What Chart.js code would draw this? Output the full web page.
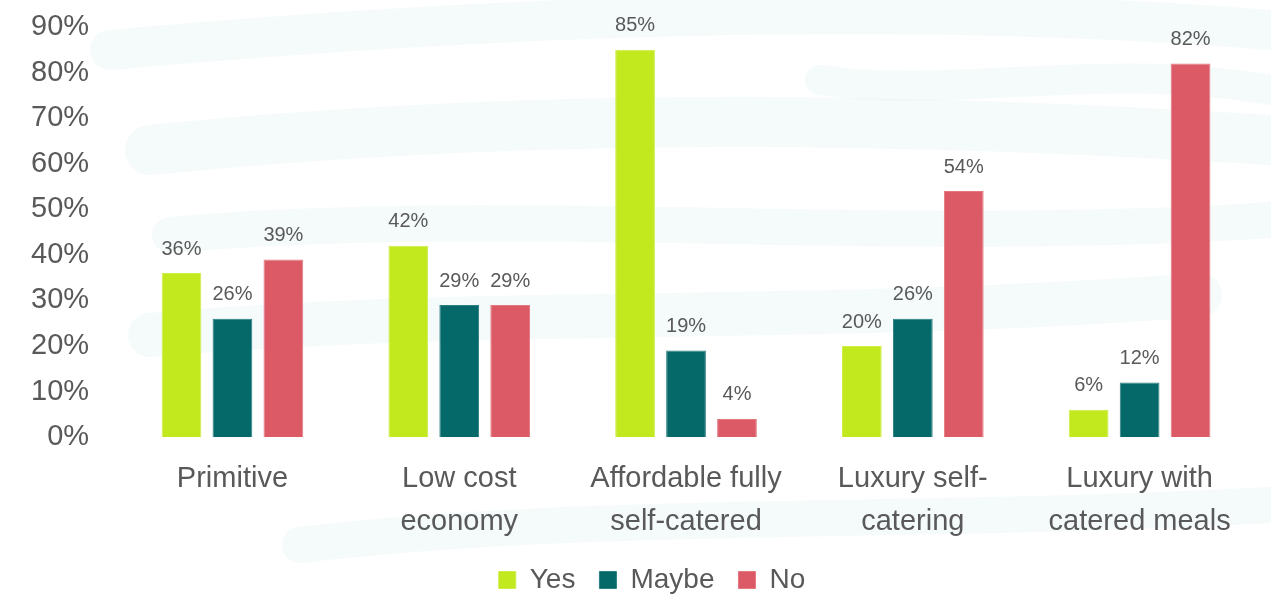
<!DOCTYPE html>
<html>
<head>
<meta charset="utf-8">
<script src="https://cdn.jsdelivr.net/npm/chart.js@4/dist/chart.umd.min.js"></script>
<style>
  html, body { margin: 0; padding: 0; background: #fff; }
  #wrap { width: 1271px; height: 595px; position: relative; }
</style>
</head>
<body>
<div id="wrap"><canvas id="myChart"></canvas></div>
<script>
let categories = [
  ["Primitive"],
  ["Low cost", "economy"],
  ["Affordable fully", "self-catered"],
  ["Luxury self-", "catering"],
  ["Luxury with", "catered meals"]
]
let yes = [36, 42, 85, 20, 6]
let maybe = [26, 29, 19, 26, 12]
let no = [39, 29, 4, 54, 82]
let yTicks = [0, 10, 20, 30, 40, 50, 60, 70, 80, 90]

let textGray = '#595959'
let fontFamily = "'Liberation Sans', Arial, sans-serif"

// faint brush strokes behind the chart
const brushBackground = {
  id: 'brushBackground',
  beforeDraw(chart) {
    const c = chart.ctx
    c.save()
    c.fillStyle = '#ffffff'
    c.fillRect(0, 0, chart.width, chart.height)
    c.strokeStyle = 'rgba(222, 237, 242, 0.3)'
    c.lineCap = 'round'
    const strokes = [
      [110, 50, 500, 15, 900, 0, 1271, 30, 40],
      [150, 150, 450, 120, 800, 110, 1271, 140, 50],
      [170, 235, 500, 205, 900, 245, 1271, 220, 36],
      [150, 335, 500, 305, 800, 325, 1200, 295, 44],
      [300, 545, 600, 510, 900, 525, 1271, 505, 36],
      [820, 80, 950, 100, 1100, 60, 1271, 90, 30]
    ]
    strokes.forEach((s) => {
      c.lineWidth = s[8]
      c.beginPath()
      c.moveTo(s[0], s[1])
      c.bezierCurveTo(s[2], s[3], s[4], s[5], s[6], s[7])
      c.stroke()
    })
    c.restore()
  },
  // nudge the legend row a little right of the canvas centre
  afterLayout(chart) {
    chart.legend.left += 50
  }
}

// value labels above each bar
const barValues = {
  id: 'barValues',
  afterDatasetsDraw(chart) {
    const c = chart.ctx
    c.save()
    c.font = '20px ' + fontFamily
    c.fillStyle = textGray
    c.textAlign = 'center'
    c.textBaseline = 'bottom'
    chart.data.datasets.forEach((ds, i) => {
      const meta = chart.getDatasetMeta(i)
      meta.data.forEach((bar, j) => {
        c.fillText(ds.data[j] + '%', bar.x, bar.y - 14)
      })
    })
    c.restore()
  }
}

let ctx = document.getElementById('myChart')
new Chart(ctx, {
  type: 'bar',
  data: {
    labels: categories,
    datasets: [
      { label: 'Yes', data: yes, backgroundColor: '#c2e81e', borderColor: '#cdee4a', borderWidth: 1 },
      { label: 'Maybe', data: maybe, backgroundColor: '#05696a', borderColor: '#2a7f80', borderWidth: 1 },
      { label: 'No', data: no, backgroundColor: '#dc5a66', borderColor: '#e37880', borderWidth: 1 }
    ]
  },
  options: {
    responsive: true,
    maintainAspectRatio: false,
    animation: false,
    categoryPercentage: 0.674,
    barPercentage: 0.78,
    layout: {
      padding: { top: 27, left: 1, right: 18, bottom: -9 }
    },
    plugins: {
      tooltip: { enabled: false },
      legend: {
        position: 'bottom',
        labels: {
          boxWidth: 17,
          boxHeight: 17,
          padding: 24,
          color: textGray,
          font: { size: 28, family: fontFamily }
        }
      }
    },
    scales: {
      x: {
        grid: { display: false, drawTicks: false },
        border: { display: false },
        afterFit: (scale) => { scale.height -= 21 },
        ticks: {
          padding: 20,
          color: textGray,
          font: { size: 29, family: fontFamily, lineHeight: 1.48 },
          maxRotation: 0
        }
      },
      y: {
        min: 0,
        max: 90,
        afterBuildTicks: (scale) => { scale.ticks = yTicks.map((v) => ({ value: v })) },
        // keep the tick padding from pushing the plot area down
        afterFit: (scale) => { scale.paddingTop = 15; scale.paddingBottom = 15 },
        grid: { display: false, drawTicks: false },
        border: { display: false },
        ticks: {
          padding: 30,
          color: textGray,
          font: { size: 29, family: fontFamily },
          callback: (v) => v + '%'
        }
      }
    }
  },
  plugins: [brushBackground, barValues]
})
</script>
</body>
</html>
